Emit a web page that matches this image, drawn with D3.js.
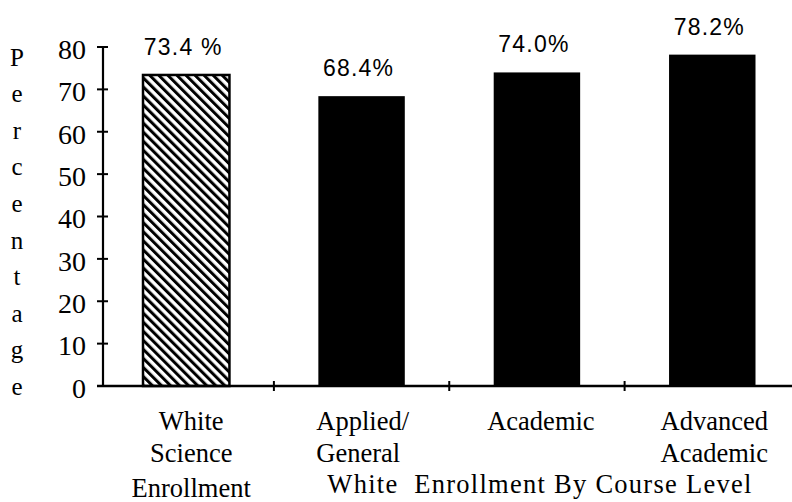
<!DOCTYPE html>
<html>
<head>
<meta charset="utf-8">
<script src="https://cdn.jsdelivr.net/npm/d3@7"></script>
<style>
  html, body { margin: 0; padding: 0; background: #fff; }
  svg { display: block; }
</style>
</head>
<body>
<div id="chart"></div>
<script>
// ---- data ----
const categories = ["White Science Enrollment", "Applied/ General", "Academic", "Advanced Academic"];
const categoryLines = [["White", "Science", "Enrollment"], ["Applied/", "General"], ["Academic"], ["Advanced", "Academic"]];
const values = [73.4, 68.4, 74.0, 78.2];
const valueLabels = ["73.4 %", "68.4%", "74.0%", "78.2%"];
const yTicks = [0, 10, 20, 30, 40, 50, 60, 70, 80];
const yAxisTitle = "Percentage";
const groupTitle = "White  Enrollment By Course Level";

// ---- layout ----
const W = 792, H = 502;
const svg = d3.select("#chart").append("svg").attr("width", W).attr("height", H);
svg.append("rect").attr("width", W).attr("height", H).attr("fill", "#fff");

const axisX = 103;
const y = d3.scaleLinear().domain([0, 80]).range([386, 47]);
const x = d3.scaleBand().domain(categories).range([143, 755.5]).paddingInner(0.507).paddingOuter(0);
const bw = x.bandwidth();
const step = x.step();

const serif = "'Liberation Serif', 'Times New Roman', serif";
const sans = "'Liberation Sans', Arial, sans-serif";

// hatch pattern
const defs = svg.append("defs");
const pat = defs.append("pattern").attr("id", "hatch")
  .attr("patternUnits", "userSpaceOnUse").attr("width", 6.4).attr("height", 10)
  .attr("patternTransform", "rotate(-45)");
pat.append("rect").attr("width", 6.4).attr("height", 10).attr("fill", "#fff");
pat.append("rect").attr("x", 0).attr("width", 3).attr("height", 10).attr("fill", "#000");

// bars
svg.selectAll("rect.bar").data(categories).enter().append("rect")
  .attr("class", "bar")
  .attr("x", d => x(d))
  .attr("y", (d, i) => y(values[i]))
  .attr("width", bw)
  .attr("height", (d, i) => y(0) - y(values[i]))
  .attr("fill", (d, i) => i === 0 ? "url(#hatch)" : "#000")
  .attr("stroke", "#000")
  .attr("stroke-width", (d, i) => i === 0 ? 2.5 : 0);

// value labels
svg.selectAll("text.val").data(categories).enter().append("text")
  .attr("class", "val")
  .attr("x", d => x(d) + bw / 2 - 3)
  .attr("y", (d, i) => y(values[i]) - 20)
  .attr("text-anchor", "middle")
  .attr("font-family", sans)
  .attr("font-size", 23)
  .attr("letter-spacing", 1.2)
  .attr("fill", "#000")
  .text((d, i) => valueLabels[i]);

// y axis
svg.append("line").attr("x1", axisX).attr("x2", axisX)
  .attr("y1", y(80)).attr("y2", y(0))
  .attr("stroke", "#000").attr("stroke-width", 2.2);
svg.selectAll("line.ytick").data(yTicks).enter().append("line")
  .attr("x1", axisX - 6).attr("x2", axisX + 5)
  .attr("y1", d => y(d)).attr("y2", d => y(d))
  .attr("stroke", "#000").attr("stroke-width", 2);
svg.selectAll("text.ytl").data(yTicks).enter().append("text")
  .attr("x", 86).attr("y", d => y(d)).attr("dy", "0.42em")
  .attr("text-anchor", "end")
  .attr("font-family", serif).attr("font-size", 28)
  .attr("fill", "#000")
  .text(d => d);

// x axis
svg.append("line").attr("x1", axisX - 6).attr("x2", W)
  .attr("y1", y(0)).attr("y2", y(0))
  .attr("stroke", "#000").attr("stroke-width", 2.5);
svg.selectAll("line.xtick").data(categories.slice(0, 3)).enter().append("line")
  .attr("x1", d => x(d) + bw + (step - bw) / 2)
  .attr("x2", d => x(d) + bw + (step - bw) / 2)
  .attr("y1", y(0) - 5).attr("y2", y(0) + 5)
  .attr("stroke", "#000").attr("stroke-width", 2);

// y axis title (vertical letters)
const letters = yAxisTitle.split("");
const ly = d3.scalePoint().domain(d3.range(letters.length)).range([y(80) + 10, y(0)]);
svg.selectAll("text.yl").data(letters).enter().append("text")
  .attr("x", 17).attr("y", (d, i) => ly(i)).attr("dy", "0.35em")
  .attr("text-anchor", "middle")
  .attr("font-family", serif).attr("font-size", 25)
  .attr("fill", "#000")
  .text(d => d);

// category labels
const lineY = [430, 462, 497];
const anchors = ["middle", "start", "middle", "middle"];
const dx = [5, -2, 4, 2];
categories.forEach((c, i) => {
  const tx = anchors[i] === "start" ? x(c) + dx[i] : x(c) + bw / 2 + dx[i];
  categoryLines[i].forEach((t, j) => {
    svg.append("text")
      .attr("x", tx).attr("y", lineY[j])
      .attr("text-anchor", anchors[i])
      .attr("font-family", serif).attr("font-size", 26.5)
      .attr("fill", "#000")
      .text(t);
  });
});

// group title
svg.append("text")
  .attr("x", x(categories[1]) + 9).attr("y", 493)
  .attr("font-family", serif).attr("font-size", 26.5)
  .attr("textLength", 424).attr("lengthAdjust", "spacing")
  .style("white-space", "pre")
  .attr("fill", "#000")
  .text(groupTitle);
</script>
</body>
</html>
